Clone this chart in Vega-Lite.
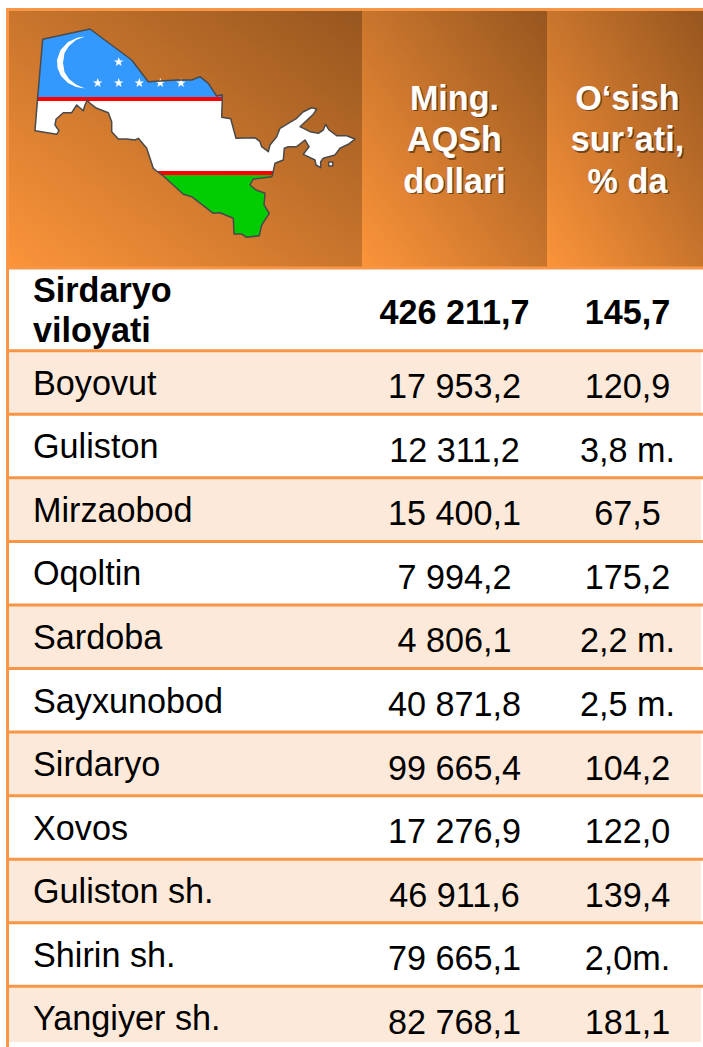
{"$schema":"https://vega.github.io/schema/vega-lite/v6.json","width":703,"height":1047,"autosize":{"type":"fit","contains":"padding"},"padding":0,"background":"white","config":{"view":{"stroke":null},"text":{"font":"Liberation Sans"}},
"datasets":{
"rows":[
{"row":2,"rowEnd":3,"name":"Boyovut","value":"17 953,2","growth":"120,9"},
{"row":3,"rowEnd":4,"name":"Guliston","value":"12 311,2","growth":"3,8 m."},
{"row":4,"rowEnd":5,"name":"Mirzaobod","value":"15 400,1","growth":"67,5"},
{"row":5,"rowEnd":6,"name":"Oqoltin","value":"7 994,2","growth":"175,2"},
{"row":6,"rowEnd":7,"name":"Sardoba","value":"4 806,1","growth":"2,2 m."},
{"row":7,"rowEnd":8,"name":"Sayxunobod","value":"40 871,8","growth":"2,5 m."},
{"row":8,"rowEnd":9,"name":"Sirdaryo","value":"99 665,4","growth":"104,2"},
{"row":9,"rowEnd":10,"name":"Xovos","value":"17 276,9","growth":"122,0"},
{"row":10,"rowEnd":11,"name":"Guliston sh.","value":"46 911,6","growth":"139,4"},
{"row":11,"rowEnd":12,"name":"Shirin sh.","value":"79 665,1","growth":"2,0m."},
{"row":12,"rowEnd":13,"name":"Yangiyer sh.","value":"82 768,1","growth":"181,1"}],
"total":[{"row":1,"name":"Sirdaryo|viloyati","value":"426 211,7","growth":"145,7"}],
"head":[{"col":0,"colEnd":1,"mid":0.5,"label":""},{"col":1,"colEnd":2,"mid":1.5,"label":"Ming.|AQSh|dollari"},{"col":2,"colEnd":3,"mid":2.516,"label":"O‘sish|sur’ati,|% da"}],
"rules":[{"row":1},{"row":2},{"row":3},{"row":4},{"row":5},{"row":6},{"row":7},{"row":8},{"row":9},{"row":10},{"row":11},{"row":12}],
"map":[
{"type":"Feature","properties":{"part":"blue"},"geometry":{"type":"Polygon","coordinates":[[[2.7,68],[7.7,10.3],[55,0],[96.7,31],[113.3,52.7],[141.7,51],[156.7,51],[165,47.7],[173.3,54.3],[181.7,67],[187.3,65.7],[187.3,68],[2.7,68]]]}},
{"type":"Feature","properties":{"part":"white"},"geometry":{"type":"MultiPolygon","coordinates":[[[[2.5,72],[187.2,72],[186.7,88.3],[195.7,89.7],[201,109.3],[220,108.7],[225,112.7],[226.7,117.7],[233.3,122.7],[235,116],[241.7,107.7],[245,99.3],[253.3,94.3],[261.7,89.3],[268.3,82.7],[276.7,78.7],[281.7,80],[278.3,85.3],[265,97.7],[275,102.7],[283.3,104.3],[288.3,101],[290.7,95.3],[294,101],[301.7,106.7],[311.7,106.7],[320,110],[313.3,115.3],[305,119.3],[300,126],[288.3,129.3],[285.7,132.7],[285.7,138.7],[281,136],[280,131],[268.3,125.3],[274,117.7],[270,111],[261.7,117.7],[253.3,117.7],[249.3,119.3],[248.3,131],[240,134.3],[238.3,142],[121.7,142],[118.3,139.3],[111.7,119.3],[103.3,109.3],[100,111],[91.7,110],[83.3,110],[76.7,102.7],[76.7,92.7],[73.3,83.7],[61.7,79.3],[55,74.3],[52.3,71],[50,76],[48.3,81.7],[41.7,76],[36.7,83.7],[28.3,83.7],[21,90.3],[20,96],[24,101.7],[21.7,105.3],[0,101.7],[2.5,72]]],[[[293.7,133],[297.7,133],[297.7,137],[293.7,137],[293.7,133]]]]}},
{"type":"Feature","properties":{"part":"red"},"geometry":{"type":"MultiPolygon","coordinates":[[[[2.7,68],[187.3,68],[187.2,72],[2.5,72],[2.7,68]]],[[[121.7,142],[238.3,142],[237.5,146.3],[127.5,146.3],[121.7,142]]]]}},
{"type":"Feature","properties":{"part":"green"},"geometry":{"type":"Polygon","coordinates":[[[127.5,146.3],[237.5,146.3],[236.7,147.7],[218.3,150],[215,156],[221,161],[230,164.3],[229,176],[234.3,184.3],[226.7,196],[224.3,206.7],[211.7,208.3],[206.7,205],[199,205],[198.3,189.3],[185,183.7],[178.3,184.3],[156.7,167.7],[148.3,165.3],[127.5,146.3]]]}},
{"type":"Feature","properties":{"part":"emblem"},"geometry":{"type":"MultiPolygon","coordinates":[[[[50,7.5],[43,8.5],[33,13],[25.5,21],[22,31],[22.5,39],[26,47],[33,54],[41,58],[50,59.5],[41,55.5],[34,50],[29.5,43],[28,34],[29.5,24],[34,17],[41,11],[50,7.5]]],
[[[83.7,28],[84.9,31.4],[88.5,31.5],[85.6,33.6],[86.6,37],[83.7,35],[80.8,37],[81.8,33.6],[78.9,31.5],[82.5,31.4],[83.7,28]]],
[[[62.7,49],[63.9,52.4],[67.5,52.5],[64.6,54.6],[65.6,58],[62.7,56],[59.8,58],[60.8,54.6],[57.9,52.5],[61.5,52.4],[62.7,49]]],
[[[83.7,49],[84.9,52.4],[88.5,52.5],[85.6,54.6],[86.6,58],[83.7,56],[80.8,58],[81.8,54.6],[78.9,52.5],[82.5,52.4],[83.7,49]]],
[[[104.3,49],[105.5,52.4],[109.1,52.5],[106.2,54.6],[107.2,58],[104.3,56],[101.4,58],[102.4,54.6],[99.5,52.5],[103.1,52.4],[104.3,49]]],
[[[125.3,49],[126.5,52.4],[130.1,52.5],[127.2,54.6],[128.2,58],[125.3,56],[122.4,58],[123.4,54.6],[120.5,52.5],[124.1,52.4],[125.3,49]]],
[[[146,49],[147.2,52.4],[150.8,52.5],[147.9,54.6],[148.9,58],[146,56],[143.1,58],[144.1,54.6],[141.2,52.5],[144.8,52.4],[146,49]]]]}}],
"outline":[{"type":"Feature","properties":{"part":"outline"},"geometry":{"type":"MultiLineString","coordinates":[[[2.7,68],[7.7,10.3],[55,0],[96.7,31],[113.3,52.7],[141.7,51],[156.7,51],[165,47.7],[173.3,54.3],[181.7,67],[187.3,65.7],[187.2,72],[186.7,88.3],[195.7,89.7],[201,109.3],[220,108.7],[225,112.7],[226.7,117.7],[233.3,122.7],[235,116],[241.7,107.7],[245,99.3],[253.3,94.3],[261.7,89.3],[268.3,82.7],[276.7,78.7],[281.7,80],[278.3,85.3],[265,97.7],[275,102.7],[283.3,104.3],[288.3,101],[290.7,95.3],[294,101],[301.7,106.7],[311.7,106.7],[320,110],[313.3,115.3],[305,119.3],[300,126],[288.3,129.3],[285.7,132.7],[285.7,138.7],[281,136],[280,131],[268.3,125.3],[274,117.7],[270,111],[261.7,117.7],[253.3,117.7],[249.3,119.3],[248.3,131],[240,134.3],[238.3,142],[237.5,146.3],[236.7,147.7],[218.3,150],[215,156],[221,161],[230,164.3],[229,176],[234.3,184.3],[226.7,196],[224.3,206.7],[211.7,208.3],[206.7,205],[199,205],[198.3,189.3],[185,183.7],[178.3,184.3],[156.7,167.7],[148.3,165.3],[127.5,146.3],[121.7,142],[118.3,139.3],[111.7,119.3],[103.3,109.3],[100,111],[91.7,110],[83.3,110],[76.7,102.7],[76.7,92.7],[73.3,83.7],[61.7,79.3],[55,74.3],[52.3,71],[50,76],[48.3,81.7],[41.7,76],[36.7,83.7],[28.3,83.7],[21,90.3],[20,96],[24,101.7],[21.7,105.3],[0,101.7],[2.7,68]],[[293.7,133],[297.7,133],[297.7,137],[293.7,137],[293.7,133]]]}}]
},
"layer":[
{"data":{"name":"rows"},"transform":[{"filter":"datum.row % 2 == 0"}],"mark":{"type":"rect","color":"#FDE9D9","clip":true},
"encoding":{"y":{"field":"row","type":"quantitative","axis":null,"scale":{"domain":[0,1,2,13],"range":[11,267.9,350.7,1049.9]}},"y2":{"field":"rowEnd"},"x":{"datum":0,"type":"quantitative","axis":null,"scale":{"domain":[0,1,2,3],"range":[9,362,547,703]}},"x2":{"datum":3}}},
{"data":{"name":"head"},"mark":{"type":"rect","color":{"gradient":"linear","x1":0,"y1":1,"x2":1,"y2":0,"stops":[{"offset":0,"color":"#FC943A"},{"offset":1,"color":"#96561F"}]}},
"encoding":{"x":{"field":"col","type":"quantitative"},"x2":{"field":"colEnd"},"y":{"datum":0,"type":"quantitative"},"y2":{"datum":1}}},
{"data":{"name":"rules"},"mark":{"type":"rule","color":"#F79646","strokeWidth":3},"encoding":{"y":{"field":"row","type":"quantitative"},"x":{"datum":0,"type":"quantitative"},"x2":{"datum":3}}},
{"data":{"name":"head"},"transform":[{"filter":"datum.col == 0"}],"mark":{"type":"rule","color":"#F79646","strokeWidth":3,"yOffset":-1.5},"encoding":{"y":{"datum":0,"type":"quantitative"},"x":{"datum":0,"type":"quantitative"},"x2":{"datum":3}}},
{"data":{"name":"head"},"transform":[{"filter":"datum.col == 0"}],"mark":{"type":"rule","color":"#F79646","strokeWidth":3,"xOffset":-1.5,"yOffset":-3},"encoding":{"x":{"datum":0,"type":"quantitative"},"y":{"datum":0,"type":"quantitative"},"y2":{"datum":13}}},
{"data":{"name":"map"},"mark":{"type":"geoshape","strokeWidth":0},"projection":{"type":"identity","scale":1,"translate":[35,29]},
"encoding":{"color":{"field":"properties.part","type":"nominal","legend":null,"scale":{"domain":["blue","white","red","green","emblem"],"range":["#3399FF","#FFFFFF","#FF0000","#00CC00","#FFFFFF"]}}}},
{"data":{"name":"outline"},"mark":{"type":"geoshape","filled":false,"stroke":"#4A4A4A","strokeWidth":1.5,"strokeJoin":"round"},"projection":{"type":"identity","scale":1,"translate":[35,29]}},
{"data":{"name":"head"},"transform":[{"filter":"datum.col > 0"}],"mark":{"type":"text","fontSize":34.2,"fontWeight":"bold","lineBreak":"|","lineHeight":41.6,"color":"#000000","opacity":0.45,"dx":1.5,"dy":90,"align":"center","baseline":"middle"},"encoding":{"x":{"field":"mid","type":"quantitative"},"y":{"datum":0,"type":"quantitative"},"text":{"field":"label"}}},
{"data":{"name":"head"},"transform":[{"filter":"datum.col > 0"}],"mark":{"type":"text","fontSize":34.2,"fontWeight":"bold","lineBreak":"|","lineHeight":41.6,"color":"#FFFFFF","dy":88.5,"align":"center","baseline":"middle"},"encoding":{"x":{"field":"mid","type":"quantitative"},"y":{"datum":0,"type":"quantitative"},"text":{"field":"label"}}},
{"data":{"name":"total"},"mark":{"type":"text","fontSize":34.2,"fontWeight":"bold","lineBreak":"|","lineHeight":40,"color":"#000000","align":"left","baseline":"middle","dx":24,"dy":24.3},"encoding":{"x":{"datum":0,"type":"quantitative"},"y":{"field":"row","type":"quantitative"},"text":{"field":"name"}}},
{"data":{"name":"total"},"mark":{"type":"text","fontSize":34.2,"fontWeight":"bold","color":"#000000","align":"center","baseline":"middle","dy":45.8},"encoding":{"x":{"datum":1.5,"type":"quantitative"},"y":{"field":"row","type":"quantitative"},"text":{"field":"value"}}},
{"data":{"name":"total"},"mark":{"type":"text","fontSize":34.2,"fontWeight":"bold","color":"#000000","align":"center","baseline":"middle","dx":2.5,"dy":45.8},"encoding":{"x":{"datum":2.5,"type":"quantitative"},"y":{"field":"row","type":"quantitative"},"text":{"field":"growth"}}},
{"data":{"name":"rows"},"mark":{"type":"text","fontSize":34.2,"color":"#000000","align":"left","baseline":"middle","dx":24,"dy":34},"encoding":{"x":{"datum":0,"type":"quantitative"},"y":{"field":"row","type":"quantitative"},"text":{"field":"name"}}},
{"data":{"name":"rows"},"mark":{"type":"text","fontSize":34.2,"color":"#000000","align":"center","baseline":"middle","dy":37.5},"encoding":{"x":{"datum":1.5,"type":"quantitative"},"y":{"field":"row","type":"quantitative"},"text":{"field":"value"}}},
{"data":{"name":"rows"},"mark":{"type":"text","fontSize":34.2,"color":"#000000","align":"center","baseline":"middle","dx":2.5,"dy":37.5},"encoding":{"x":{"datum":2.5,"type":"quantitative"},"y":{"field":"row","type":"quantitative"},"text":{"field":"growth"}}}
]}
